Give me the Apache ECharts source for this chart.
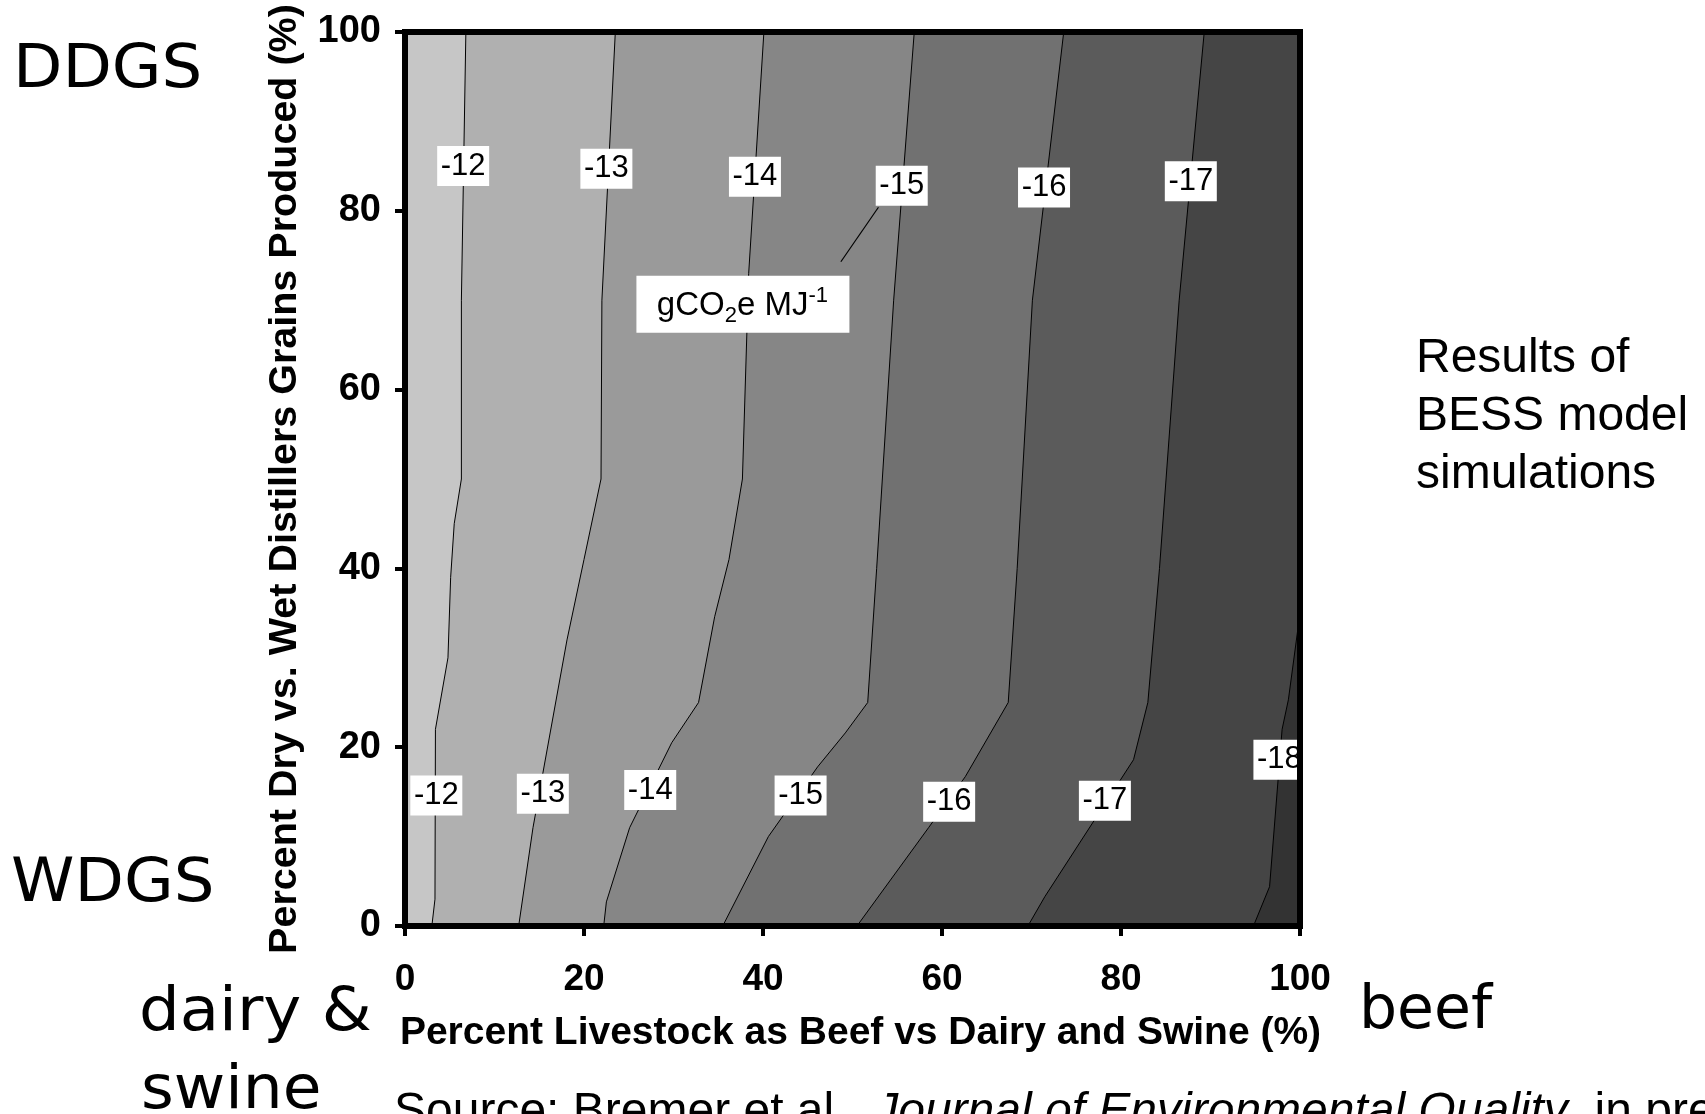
<!DOCTYPE html>
<html>
<head>
    <meta charset="utf-8">
    <title>BESS contour</title>
    <script src="https://cdn.jsdelivr.net/npm/echarts@6.0.0/dist/echarts.min.js"></script>
    <style>
        html, body {
            margin: 0;
            padding: 0;
            width: 100%;
            height: 100%;
            overflow: hidden;
            background: #fff;
        }
        #chart {
            width: 1705px;
            height: 1114px;
        }
    </style>
</head>
<body>
    <div id="chart"></div>
    <script>
        // contour levels, gCO2e MJ-1
        const levels = [-12, -13, -14, -15, -16, -17, -18];

        // contour lines as [beef %, dry %]
        const line12 = [[6.8, 100], [6.3, 70], [6.3, 50], [5.5, 45], [5.1, 39], [4.8, 30], [3.4, 22], [3.35, 3], [3.0, 0]];
        const line13 = [[23.5, 100], [22, 70], [21.9, 50], [20, 41], [18.1, 32], [14.3, 11], [12.7, 0]];
        const line14 = [[40.1, 100], [38.4, 73], [37.7, 50], [36.2, 41], [34.6, 34.6], [32.8, 25], [29.8, 20.5], [25.1, 11], [22.5, 2.7], [22.2, 0]];
        const line15 = [[56.9, 100], [54.6, 70], [52.7, 40], [51.7, 25], [49.2, 21.6], [46.1, 17.8], [40.6, 10], [35.5, 0]];
        const line16 = [[73.6, 100], [70.1, 70], [68.4, 40], [67.4, 25], [62.6, 16.7], [58.5, 11], [50.5, 0]];
        const line17 = [[89.3, 100], [86.5, 70], [84.3, 40], [83, 25], [81.4, 18.6], [71.5, 3.3], [69.6, 0]];
        const line18 = [[100, 35], [98.7, 25.3], [98, 22], [96.6, 4.4], [94.8, 0]];
        const contours = [line12, line13, line14, line15, line16, line17, line18];

        // inline contour labels
        const topLabels = ['-12', '-13', '-14', '-15', '-16', '-17'];
        const topLabelX = [6.5, 22.5, 39.1, 55.5, 71.4, 87.8];
        const topLabelY = [85.0, 84.7, 83.8, 82.8, 82.6, 83.3];
        const bottomLabels = ['-12', '-13', '-14', '-15', '-16', '-17', '-18'];
        const bottomLabelX = [3.5, 15.4, 27.4, 44.2, 60.8, 78.2, 97.7];
        const bottomLabelY = [14.6, 14.8, 15.2, 14.6, 13.9, 14.0, 18.6];

        // unit box and its pointer
        const unitPos = [37.7, 69.6];
        const unitPointer = [[48.7, 74.3], [52.9, 80.4]];

        const axisTicks = [0, 20, 40, 60, 80, 100];

        // grey for each band, lightest (> -12) first
        const bandColors = ['#c6c6c6', '#b0b0b0', '#9a9a9a', '#868686', '#717171', '#5b5b5b', '#454545', '#333333'];

        const sans = '"Liberation Sans", Arial, sans-serif';
        const verdana = '"DejaVu Sans", Verdana, sans-serif';

        const labelTexts = topLabels.concat(bottomLabels);
        const labelData = topLabelX.map((x, i) => [x, topLabelY[i]])
            .concat(bottomLabelX.map((x, i) => [x, bottomLabelY[i]]));

        const chart = echarts.init(document.getElementById('chart'), null, { renderer: 'canvas' });

        function renderBand(params, api) {
            const pts = contours[params.dataIndex];
            const linePts = pts.map(p => api.coord(p));
            const poly = linePts.concat([api.coord([100, 0]), api.coord([100, pts[0][1]])]);
            return {
                type: 'group',
                children: [{
                    type: 'polygon',
                    shape: { points: poly },
                    style: { fill: bandColors[params.dataIndex + 1] }
                }, {
                    type: 'polyline',
                    shape: { points: linePts },
                    style: { stroke: '#000', lineWidth: 1, fill: null }
                }]
            };
        }

        function renderLabel(params, api) {
            const c = api.coord([api.value(0), api.value(1)]);
            return {
                type: 'group',
                children: [{
                    type: 'rect',
                    shape: { x: c[0] - 26, y: c[1] - 20, width: 52, height: 40 },
                    style: { fill: '#fff' }
                }, {
                    type: 'text',
                    style: {
                        text: labelTexts[params.dataIndex],
                        x: c[0], y: c[1],
                        align: 'center', verticalAlign: 'middle',
                        fill: '#000', fontSize: 31, fontFamily: sans
                    }
                }]
            };
        }

        function renderUnit(params, api) {
            const c = api.coord([api.value(0), api.value(1)]);
            return {
                type: 'group',
                children: [{
                    type: 'rect',
                    shape: { x: c[0] - 106, y: c[1] - 28, width: 213, height: 57 },
                    style: { fill: '#fff' }
                }, {
                    type: 'text',
                    style: {
                        text: '{a|gCO}{s|2}{a|e MJ}{p|-1}',
                        x: c[0], y: c[1] + 2,
                        align: 'center', verticalAlign: 'middle',
                        rich: {
                            a: { fontSize: 33, fontFamily: sans, lineHeight: 42, fill: '#000' },
                            s: { fontSize: 22, fontFamily: sans, lineHeight: 21, verticalAlign: 'bottom', fill: '#000' },
                            p: { fontSize: 22, fontFamily: sans, lineHeight: 21, verticalAlign: 'top', fill: '#000' }
                        }
                    }
                }]
            };
        }

        const axisLineStyle = { color: '#000', width: 6, cap: 'square' };

        const option = {
            backgroundColor: '#fff',
            animation: false,
            textStyle: { fontFamily: sans, color: '#000' },
            grid: {
                left: 405, top: 32, right: 405, bottom: 188,
                show: true, backgroundColor: bandColors[0], borderWidth: 0,
                outerBoundsMode: 'none'
            },
            xAxis: [{
                type: 'value', min: 0, max: 100, interval: 20, position: 'bottom', z: 10,
                name: 'Percent Livestock as Beef vs Dairy and Swine (%)',
                nameLocation: 'middle', nameGap: 88,
                nameTextStyle: { fontSize: 39, fontWeight: 'bold', color: '#000', fontFamily: sans, padding: [0, 0, 0, 16] },
                axisLine: { show: true, onZero: false, lineStyle: axisLineStyle },
                axisTick: { show: true, length: 10, lineStyle: { color: '#000', width: 4 } },
                axisLabel: {
                    margin: 35, fontSize: 37, fontWeight: 'bold', color: '#000', fontFamily: sans,
                    formatter: v => axisTicks.includes(v) ? String(v) : ''
                },
                splitLine: { show: false }
            }, {
                type: 'value', min: 0, max: 100, position: 'top', z: 10,
                axisLine: { show: true, onZero: false, lineStyle: axisLineStyle },
                axisTick: { show: false }, axisLabel: { show: false }, splitLine: { show: false }
            }],
            yAxis: [{
                type: 'value', min: 0, max: 100, interval: 20, position: 'left', z: 10,
                name: 'Percent Dry vs. Wet Distillers Grains Produced (%)',
                nameLocation: 'middle', nameGap: 100,
                nameTextStyle: { fontSize: 39.5, fontWeight: 'bold', color: '#000', fontFamily: sans },
                axisLine: { show: true, onZero: false, lineStyle: axisLineStyle },
                axisTick: { show: true, length: 10, lineStyle: { color: '#000', width: 4 } },
                axisLabel: { margin: 24, fontSize: 38, fontWeight: 'bold', color: '#000', fontFamily: sans },
                splitLine: { show: false }
            }, {
                type: 'value', min: 0, max: 100, position: 'right', z: 10,
                axisLine: { show: true, onZero: false, lineStyle: axisLineStyle },
                axisTick: { show: false }, axisLabel: { show: false }, splitLine: { show: false }
            }],
            series: [{
                type: 'custom',
                name: 'bands',
                renderItem: renderBand,
                data: levels.map((lv, i) => [i, i]),
                z: 2,
                silent: true
            }, {
                type: 'line',
                name: 'pointer',
                data: unitPointer,
                symbol: 'none',
                lineStyle: { color: '#000', width: 1.2 },
                z: 3,
                silent: true
            }, {
                type: 'custom',
                name: 'unit',
                renderItem: renderUnit,
                data: [unitPos],
                z: 4,
                silent: true
            }, {
                type: 'custom',
                name: 'labels',
                renderItem: renderLabel,
                data: labelData,
                clip: true,
                z: 4,
                silent: true
            }],
            graphic: [{
                type: 'text', x: 13, y: 71, scaleX: 1.07,
                style: { text: 'DDGS', fontSize: 60, fontFamily: verdana, fill: '#000', verticalAlign: 'middle' }
            }, {
                type: 'text', x: 11, y: 885, scaleX: 1.07,
                style: { text: 'WDGS', fontSize: 60, fontFamily: verdana, fill: '#000', verticalAlign: 'middle' }
            }, {
                type: 'text', x: 139, y: 1014, scaleX: 1.07,
                style: { text: 'dairy &', fontSize: 60, fontFamily: verdana, fill: '#000', verticalAlign: 'middle' }
            }, {
                type: 'text', x: 141, y: 1092, scaleX: 1.05,
                style: { text: 'swine', fontSize: 60, fontFamily: verdana, fill: '#000', verticalAlign: 'middle' }
            }, {
                type: 'text', x: 1359, y: 1012,
                style: { text: 'beef', fontSize: 60, fontFamily: verdana, fill: '#000', verticalAlign: 'middle' }
            }, {
                type: 'text', x: 1416, y: 417,
                style: {
                    text: 'Results of\nBESS model\nsimulations',
                    fontSize: 48, lineHeight: 58, fontFamily: sans, fill: '#000', verticalAlign: 'middle'
                }
            }, {
                type: 'text', x: 394, y: 1113,
                style: {
                    text: '{n|Source: Bremer et al., }{i|Journal of Environmental Quality}{n|, in press}',
                    verticalAlign: 'middle',
                    rich: {
                        n: { fontSize: 48, fontFamily: sans, fill: '#000' },
                        i: { fontSize: 48, fontFamily: sans, fontStyle: 'italic', fill: '#000' }
                    }
                }
            }]
        };

        chart.setOption(option);
    </script>
</body>
</html>
